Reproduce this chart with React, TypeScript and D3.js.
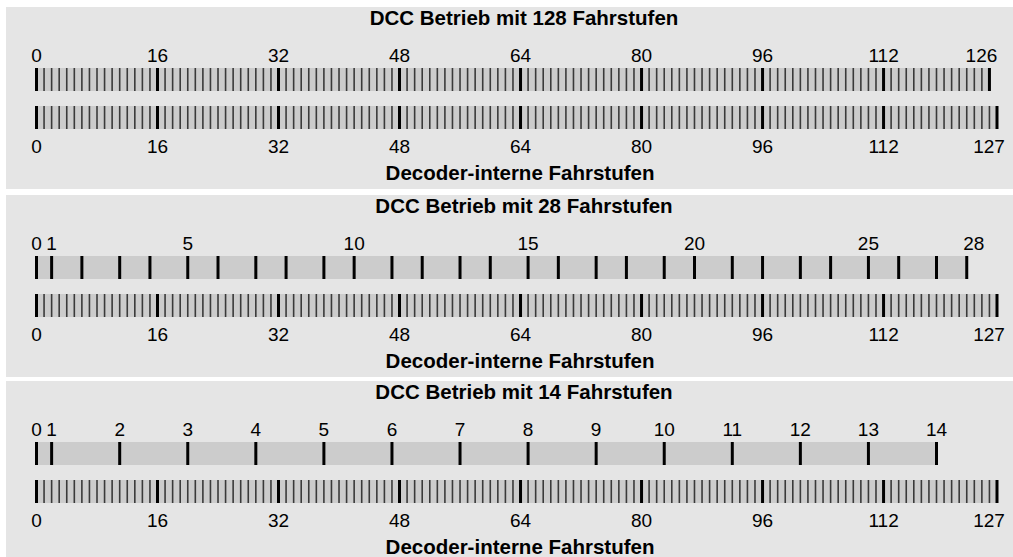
import React, { useRef, useEffect } from "react";
import * as d3 from "d3";

// decoder-internal speed steps 0..127, labelled every 16
const internalMax = 127;
const internalLabels = [0, 16, 32, 48, 64, 80, 96, 112, 127];
const internalMajor = [0, 16, 32, 48, 64, 80, 96, 112, 127];

// 128-step mode: DCC steps 0..126 on the internal scale
const dcc128Max = 126;
const dcc128Labels = [0, 16, 32, 48, 64, 80, 96, 112, 126];
const dcc128Major = [0, 16, 32, 48, 64, 80, 96, 112, 126];

// 28-step mode: internal position of each DCC step 0..28
const dcc28Pos = [0, 2, 6, 11, 15, 20, 24, 29, 33, 38, 42, 47, 51, 56, 60, 65, 69, 74, 78, 83, 87, 92, 96, 101, 105, 110, 114, 119, 123];
const dcc28Labels = [0, 1, 5, 10, 15, 20, 25, 28];

// 14-step mode: internal position of each DCC step 0..14
const dcc14Pos = [0, 2, 11, 20, 29, 38, 47, 56, 65, 74, 83, 92, 101, 110, 119];
const dcc14Labels = [0, 1, 2, 3, 4, 5, 6, 7, 8, 9, 10, 11, 12, 13, 14];

const titles = ["DCC Betrieb mit 128 Fahrstufen", "DCC Betrieb mit 28 Fahrstufen", "DCC Betrieb mit 14 Fahrstufen"];
const bottomTitle = "Decoder-interne Fahrstufen";

type Tick = { at: number; major: boolean };
type Label = { at: number; text: string; dx: number };

export default function App() {
    const svgRef = useRef<SVGSVGElement>(null);

    useEffect(() => {
        if (!svgRef.current) return;
        const svg = d3.select(svgRef.current);
        svg.selectAll("*").remove();

        const width = 1013;
        const height = 557;
        const panelTop = [7, 195, 381];
        const panelH = 182;
        const font = "'Liberation Sans', Arial, sans-serif";

        const x = d3.scaleLinear().domain([0, internalMax]).range([36.5, 997]);

        const topRows = [
            {
                end: dcc128Max,
                ticks: d3.range(0, dcc128Max + 1).map((v) => ({ at: v, major: dcc128Major.includes(v) })) as Tick[],
                labels: dcc128Labels.map((v, i) => ({ at: v, text: String(v), dx: i === dcc128Labels.length - 1 ? -8 : 0 })) as Label[],
            },
            {
                end: dcc28Pos[dcc28Pos.length - 1],
                ticks: dcc28Pos.map((v) => ({ at: v, major: true })) as Tick[],
                labels: dcc28Labels.map((s, i) => ({ at: dcc28Pos[s], text: String(s), dx: i === dcc28Labels.length - 1 ? 7 : 0 })) as Label[],
            },
            {
                end: dcc14Pos[dcc14Pos.length - 1],
                ticks: dcc14Pos.map((v) => ({ at: v, major: true })) as Tick[],
                labels: dcc14Labels.map((s) => ({ at: dcc14Pos[s], text: String(s), dx: 0 })) as Label[],
            },
        ];

        const bottomTicks: Tick[] = d3.range(0, internalMax + 1).map((v) => ({ at: v, major: internalMajor.includes(v) }));
        const bottomLabels: Label[] = internalLabels.map((v, i) => ({ at: v, text: String(v), dx: i === internalLabels.length - 1 ? -8 : 0 }));

        const drawBar = (g: any, y0: number, h: number, end: number, ticks: Tick[]) => {
            g.append("rect")
                .attr("x", x(0))
                .attr("y", y0)
                .attr("width", x(end) - x(0))
                .attr("height", h)
                .attr("fill", "#cccccc");
            g.selectAll(null)
                .data(ticks)
                .join("line")
                .attr("x1", (d: Tick) => x(d.at))
                .attr("x2", (d: Tick) => x(d.at))
                .attr("y1", y0)
                .attr("y2", y0 + h)
                .attr("stroke", (d: Tick) => (d.major ? "#000" : "#3a3a3a"))
                .attr("stroke-width", (d: Tick) => (d.major ? 3 : 1.6));
        };

        const drawLabels = (g: any, y: number, labels: Label[]) => {
            g.selectAll(null)
                .data(labels)
                .join("text")
                .attr("x", (d: Label) => x(d.at) + d.dx)
                .attr("y", y)
                .attr("text-anchor", "middle")
                .attr("font-family", font)
                .attr("font-size", 19)
                .attr("fill", "#000")
                .text((d: Label) => d.text);
        };

        titles.forEach((title, i) => {
            const top = panelTop[i];
            const g = svg.append("g");
            g.append("rect")
                .attr("x", 6)
                .attr("y", top)
                .attr("width", 1028)
                .attr("height", panelH)
                .attr("fill", "#e5e5e5");

            g.append("text")
                .attr("x", 524)
                .attr("y", top + 18)
                .attr("text-anchor", "middle")
                .attr("font-family", font)
                .attr("font-weight", "bold")
                .attr("font-size", 20.5)
                .text(title);

            drawLabels(g, top + 55, topRows[i].labels);
            drawBar(g, top + 61, 23, topRows[i].end, topRows[i].ticks);
            drawBar(g, top + 99, 23, internalMax, bottomTicks);
            drawLabels(g, top + 146, bottomLabels);

            g.append("text")
                .attr("x", 520)
                .attr("y", top + 173)
                .attr("text-anchor", "middle")
                .attr("font-family", font)
                .attr("font-weight", "bold")
                .attr("font-size", 20.5)
                .text(bottomTitle);
        });

        svg.attr("width", width).attr("height", height);
    }, []);

    return (
        <svg
            ref={svgRef}
            style={{ position: "absolute", left: 0, top: 0, display: "block", background: "#fff" }}
        />
    );
}
